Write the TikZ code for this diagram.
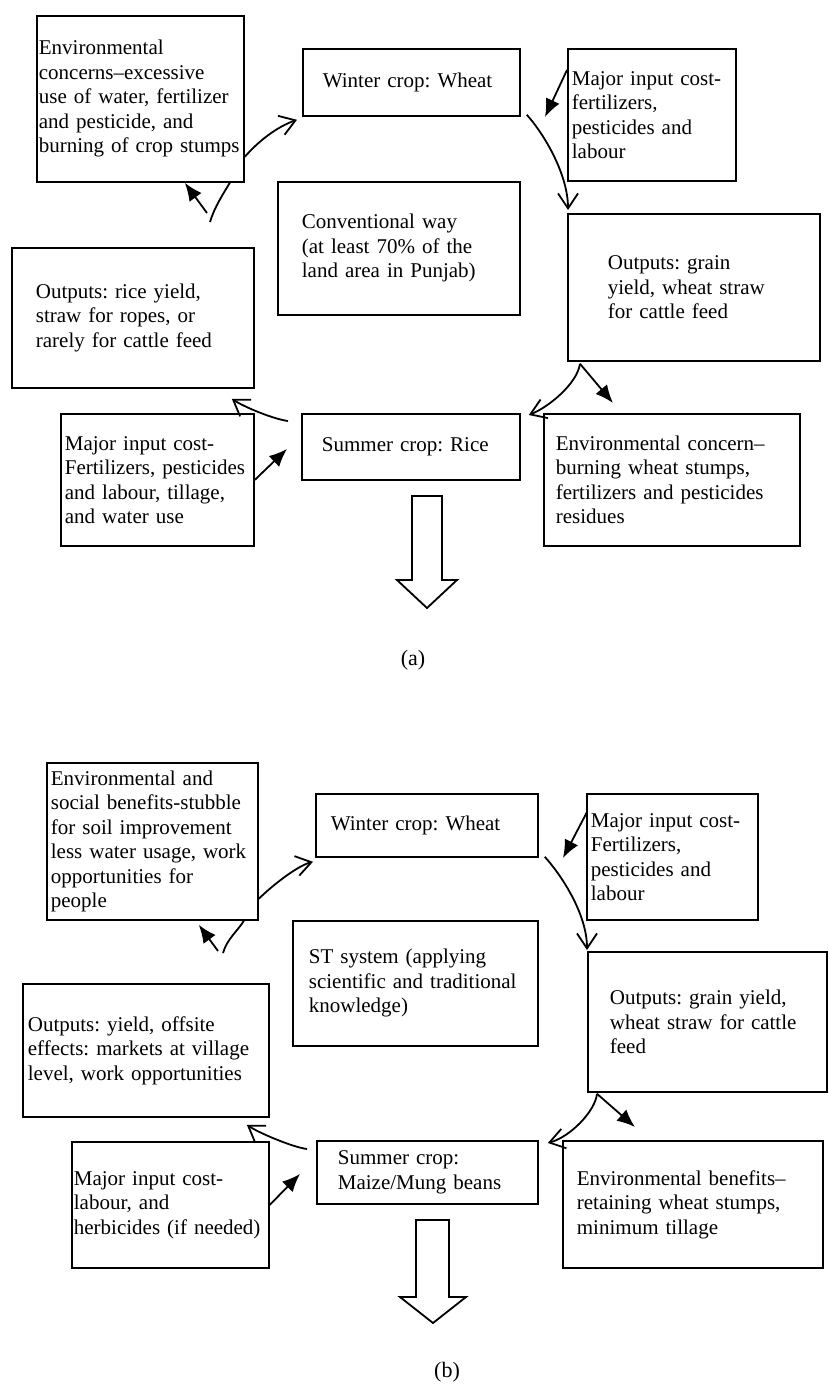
\documentclass[tikz,border=0pt]{standalone}
\usepackage{fontspec}
\setmainfont{Liberation Serif}
\usetikzlibrary{arrows.meta,calc}
\frenchspacing

\begin{document}
\begin{tikzpicture}[>={Latex[length=18pt,width=15pt]}, x=1pt, y=-1pt,
	box/.style={draw, line width=1.8pt, anchor=north west, align=left,
		inner xsep=0pt, inner ysep=0pt, font=\fontsize{21}{24.5}\selectfont},
	flow/.style={line width=1.8pt, -{Straight Barb[length=15pt,width=20pt]}},
	feed/.style={line width=1.8pt, ->}]
	\useasboundingbox (0,0) rectangle (828,1385);
	% (a) conventional way
	\node[box, minimum width=207pt, minimum height=166pt, text width=203pt] (envA) at (36,15)
		{Environmental\\concerns–excessive\\use of water, fertilizer\\and pesticide, and\\burning of crop stumps};
	\node[box, minimum width=217pt, minimum height=67pt, text width=177pt] (winterA) at (302,48)
		{Winter crop: Wheat};
	\node[box, minimum width=168pt, minimum height=132pt, text width=160pt] (inputA) at (567,48)
		{Major input cost-\\fertilizers,\\pesticides and\\labour};
	\node[box, minimum width=242pt, minimum height=133pt, text width=194pt] (convA) at (277,181)
		{Conventional way\\(at least 70\% of the\\land area in Punjab)};
	\node[box, minimum width=252pt, minimum height=147pt, text width=172pt] (grainA) at (567,213)
		{Outputs: grain\\yield, wheat straw\\for cattle feed};
	\node[box, minimum width=242pt, minimum height=140pt, text width=194pt] (riceOutA) at (11,247)
		{Outputs: rice yield,\\straw for ropes, or\\rarely for cattle feed};
	\node[box, minimum width=218pt, minimum height=66pt, text width=178pt] (summerA) at (301,413)
		{Summer crop: Rice};
	\node[box, minimum width=193pt, minimum height=132pt, text width=185pt] (inputRiceA) at (60,413)
		{Major input cost-\\Fertilizers, pesticides\\and labour, tillage,\\and water use};
	\node[box, minimum width=256pt, minimum height=132pt, text width=232pt] (concernA) at (543,413)
		{Environmental concern–\\burning wheat stumps,\\fertilizers and pesticides\\residues};
	\coordinate (inTipA) at (545,117);
	\coordinate (loopA) at (210,222);
	\coordinate (loopTailA) at (207,213);
	\draw[flow] ([yshift=26pt]envA.south east) .. controls +(14,-16) and +(-20,7) .. ([xshift=-5pt,yshift=-3pt]winterA.south west);
	\draw[flow] ([xshift=6pt,yshift=2pt]winterA.south east) .. controls +(18,20) and +(0,-35) .. ([xshift=1pt,yshift=3pt]grainA.north west);
	\draw[feed] ([yshift=-22pt]inputA.north west) -- (inTipA);
	\draw[flow] ([xshift=13pt,yshift=-2pt]grainA.south west) .. controls +(-3,20) and +(20,-8) .. ([xshift=8pt,yshift=-2pt]summerA.north east);
	\draw[feed] ([xshift=13pt,yshift=-2pt]grainA.south west) -- ([xshift=70pt,yshift=10pt]concernA.north west);
	\draw[flow] ([xshift=-13pt,yshift=-8pt]summerA.north west) .. controls +(-15,-2) and +(12,8) .. ([xshift=-23pt,yshift=-10pt]riceOutA.south east);
	\draw[feed] (inputRiceA.east) -- ([xshift=-14pt,yshift=-2pt]summerA.west);
	\draw[line width=1.8pt] (loopA) .. controls +(4,-14) and +(-6,10) .. ([xshift=-15pt]envA.south east);
	\draw[feed] (loopTailA) -- ([xshift=-60pt]envA.south east);
	\draw[line width=1.8pt, line join=miter] (412,496) -- (442,496) -- (442,580) -- (457,580)
		-- (427,608) -- (397,580) -- (412,580) -- cycle;
	\node[font=\fontsize{22}{24}\selectfont] (labelA) at (413,660) {(a)};
	% (b) ST system
	\node[box, minimum width=211pt, minimum height=157pt, text width=203pt] (envB) at (46,762)
		{Environmental and\\social benefits-stubble\\for soil improvement\\less water usage, work\\opportunities for\\people};
	\node[box, minimum width=222pt, minimum height=63pt, text width=192pt] (winterB) at (315,793)
		{Winter crop: Wheat};
	\node[box, minimum width=171pt, minimum height=126pt, text width=163pt] (inputB) at (586,793)
		{Major input cost-\\Fertilizers,\\pesticides and\\labour};
	\node[box, minimum width=245pt, minimum height=125pt, text width=213pt] (stB) at (292,920)
		{ST system (applying\\scientific and traditional\\knowledge)};
	\node[box, minimum width=239pt, minimum height=140pt, text width=195pt] (grainB) at (587,951)
		{Outputs: grain yield,\\wheat straw for cattle\\feed};
	\node[box, minimum width=246pt, minimum height=133pt, text width=236pt] (yieldB) at (22,983)
		{Outputs: yield, offsite\\effects: markets at village\\level, work opportunities};
	\node[box, minimum width=221pt, minimum height=63pt, text width=179pt] (summerB) at (316,1140)
		{Summer crop:\\Maize/Mung beans};
	\node[box, minimum width=197pt, minimum height=126pt, text width=193pt] (inputMaizeB) at (71,1141)
		{Major input cost-\\labour, and\\herbicides (if needed)};
	\node[box, minimum width=260pt, minimum height=127pt, text width=232pt] (benefitB) at (562,1140)
		{Environmental benefits–\\retaining wheat stumps,\\minimum tillage};
	\coordinate (inTipB) at (563,858);
	\coordinate (loopB) at (223,953);
	\coordinate (loopTailB) at (218,951);
	\draw[flow] ([yshift=22pt]envB.south east) .. controls +(12,-12) and +(-16,4) .. ([xshift=-2pt,yshift=-4pt]winterB.south west);
	\draw[flow] ([xshift=6pt,yshift=1pt]winterB.south east) .. controls +(18,20) and +(0,-35) .. ([yshift=1pt]grainB.north west);
	\draw[feed] ([xshift=1pt,yshift=-19pt]inputB.north west) -- (inTipB);
	\draw[flow] ([xshift=10pt,yshift=-1pt]grainB.south west) .. controls +(-2,18) and +(22,-6) .. ([xshift=9pt,yshift=-3pt]summerB.north east);
	\draw[feed] ([xshift=10pt,yshift=-1pt]grainB.south west) -- ([xshift=73pt,yshift=13pt]benefitB.north west);
	\draw[flow] ([xshift=-9pt,yshift=-9pt]summerB.north west) .. controls +(-15,-2) and +(12,8) .. ([xshift=-23pt,yshift=-7pt]yieldB.south east);
	\draw[feed] (inputMaizeB.east) -- ([xshift=-16pt,yshift=-1.5pt]summerB.west);
	\draw[line width=1.8pt] (loopB) .. controls +(4,-14) and +(-6,10) .. ([xshift=-15pt]envB.south east);
	\draw[feed] (loopTailB) -- ([xshift=-60pt,yshift=-4pt]envB.south east);
	\draw[line width=1.8pt, line join=miter] (416,1220) -- (449,1220) -- (449,1297) -- (466,1297)
		-- (433,1323) -- (400,1297) -- (416,1297) -- cycle;
	\node[font=\fontsize{22}{24}\selectfont] (labelB) at (447,1372) {(b)};
\end{tikzpicture}
\end{document}
